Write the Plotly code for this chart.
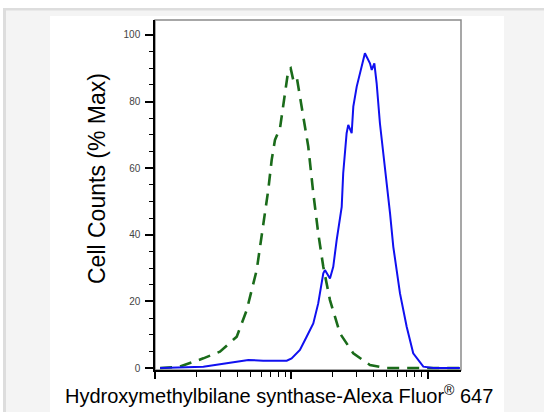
import plotly.graph_objects as go

# Fluorescence intensity (log axis) and % of max counts
stained_x = [10.9, 22.6, 33.5, 48.3, 62.1, 92.3, 100.2, 115.3, 129.1, 144.5, 157.0, 171.0,
             175.8, 191.4, 202.3, 214.3, 233.3, 239.3, 253.5, 260.6, 276.1, 283.8, 300.6,
             326.6, 345.1, 375.8, 387.3, 404.6, 420.7, 444.6, 484.2, 527.2, 557.2, 623.7,
             698.2, 779.8, 924.7, 1094, 1714]
stained_y = [0, 0.4, 1.4, 2.4, 2.2, 2.2, 2.9, 5.4, 9.4, 13.4, 19.4, 28.4,
             29.4, 26.9, 30.4, 38.4, 48.4, 58.5, 70.5, 73.0, 70.5, 78.5, 84.5,
             90.5, 94.5, 91.5, 89.5, 91.5, 85.5, 73.5, 60.5, 46.5, 36.4, 22.4,
             12.4, 4.4, 0.4, 0, 0]

control_x = [10.9, 15.2, 22.6, 29.9, 39.7, 47.0, 55.6, 62.1, 67.6, 71.6, 75.7, 82.4,
             89.5, 94.8, 98.6, 103.0, 109.1, 112.2, 121.9, 132.7, 144.5, 157.0, 171.0,
             191.4, 226.5, 283.8, 375.8, 497.7, 738.0, 1714]
control_y = [0, 0.4, 2.9, 4.9, 9.4, 17.4, 29.4, 42.4, 53.5, 62.5, 68.5, 72.0,
             81.5, 89.5, 90.0, 86.5, 87.5, 84.5, 76.5, 66.5, 52.5, 40.5, 30.4,
             20.4, 10.4, 4.4, 0.9, 0, 0, 0]

y_ticks = [0, 20, 40, 60, 80, 100]
x_major = [10, 100, 1000]
x_minor = [20, 30, 40, 50, 60, 70, 80, 90, 200, 300, 400, 500, 600, 700, 800, 900]

x_title = "Hydroxymethylbilane synthase-Alexa Fluor<sup>®</sup> 647"
y_title = "Cell Counts (% Max)"

fig = go.Figure()
fig.add_trace(go.Scatter(x=control_x, y=control_y, mode="lines",
                         line=dict(color="#1a6b1a", width=2.6, dash="12px,8px"),
                         showlegend=False))
fig.add_trace(go.Scatter(x=stained_x, y=stained_y, mode="lines",
                         line=dict(color="#1010f0", width=2),
                         showlegend=False))

L, R, T, B = 155, 461, 20, 370
W, H = 544, 412


def px(x):
    return (x - L) / (R - L)


def py(y):
    return (B - y) / (B - T)


shapes = [
    dict(type="rect", xref="paper", yref="paper", x0=px(0), x1=px(W), y0=py(8), y1=py(0),
         fillcolor="white", line=dict(width=0), layer="below"),
    dict(type="rect", xref="paper", yref="paper", x0=px(0), x1=px(W), y0=py(10.5), y1=py(8),
         fillcolor="#dddddd", line=dict(width=0), layer="below"),
    dict(type="rect", xref="paper", yref="paper", x0=px(0), x1=px(3), y0=py(H), y1=py(8),
         fillcolor="white", line=dict(width=0), layer="below"),
    dict(type="rect", xref="paper", yref="paper", x0=px(3), x1=px(6), y0=py(H), y1=py(10),
         fillcolor="#dddddd", line=dict(width=0), layer="below"),
    dict(type="rect", xref="paper", yref="paper", x0=px(50), x1=px(504), y0=py(H), y1=py(16),
         fillcolor="white", line=dict(width=0), layer="below"),
    dict(type="rect", xref="paper", yref="paper", x0=0, x1=1, y0=0, y1=1,
         fillcolor="rgba(0,0,0,0)", line=dict(color="#8a8a8a", width=1.5), layer="below"),
]

fig.update_layout(
    width=W, height=H, autosize=False,
    margin=dict(l=L, r=W - R, t=T, b=H - B, pad=0),
    paper_bgcolor="#f4f4f4", plot_bgcolor="white",
    font=dict(family="Liberation Sans, Arial, sans-serif"),
    shapes=shapes,
    annotations=[
        dict(text=x_title, xref="paper", yref="paper", x=px(279), y=py(394),
             xanchor="center", yanchor="middle", showarrow=False,
             font=dict(size=20, color="black")),
        dict(text=y_title, xref="paper", yref="paper", x=px(97), y=py(179),
             xanchor="center", yanchor="middle", showarrow=False, textangle=-90,
             font=dict(size=23, color="black")),
    ],
)

fig.update_xaxes(type="log", range=[1, 3.242], showgrid=False, zeroline=False,
                 showline=True, linecolor="black", linewidth=1.5,
                 tickmode="array", tickvals=x_major, showticklabels=False,
                 ticks="outside", ticklen=7, tickwidth=2, tickcolor="black",
                 minor=dict(tickmode="array", tickvals=x_minor, ticks="outside",
                            ticklen=5, tickwidth=1, tickcolor="black", showgrid=False))
fig.update_yaxes(range=[-0.6, 104.5], showgrid=False, zeroline=False,
                 showline=True, linecolor="black", linewidth=1.5,
                 tickmode="array", tickvals=y_ticks, ticktext=[str(v) for v in y_ticks],
                 ticks="outside", ticklen=8, tickwidth=1.5, tickcolor="black",
                 tickfont=dict(size=10, color="#444444"), ticklabelstandoff=3,
                 minor=dict(dtick=5, ticks="outside", ticklen=4, tickwidth=1,
                            tickcolor="black", showgrid=False))

fig.write_html("out.html", config={"displayModeBar": False},
               post_script="document.body.style.margin='0';document.body.style.overflow='hidden';")
